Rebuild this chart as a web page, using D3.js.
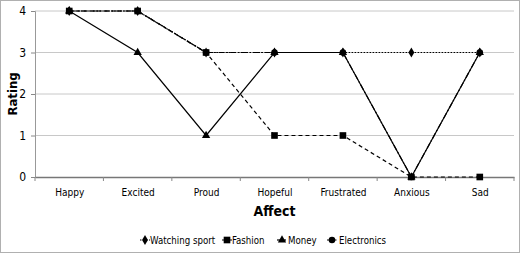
<!DOCTYPE html>
<html><head><meta charset="utf-8">
<script src="https://cdn.jsdelivr.net/npm/d3@7"></script>
<style>body{margin:0;background:#fff}svg{display:block}text{font-family:"DejaVu Sans Condensed","Liberation Sans Narrow","Arial Narrow",sans-serif}</style>
</head><body>
<svg id="c" width="520" height="253"></svg>
<script>
const categories = ["Happy","Excited","Proud","Hopeful","Frustrated","Anxious","Sad"];
const watchingSport = [4,4,3,3,3,3,3];
const fashion = [4,4,3,1,1,0,0];
const money = [4,3,1,3,3,0,3];
const electronics = [4,4,3,3,3,0,3];
const yTicks = [0,1,2,3,4];
const seriesNames = ["Watching sport","Fashion","Money","Electronics"];

const series = [
  {name: seriesNames[0], values: watchingSport, dash: "1.5,1.5", sym: d3.symbolDiamond, size: 30},
  {name: seriesNames[1], values: fashion, dash: "4,3", sym: d3.symbolSquare, size: 44},
  {name: seriesNames[2], values: money, dash: null, sym: d3.symbolTriangle, size: 30},
  {name: seriesNames[3], values: electronics, dash: "6,2,1.5,2", sym: d3.symbolCircle, size: 34}
];

const svg = d3.select("#c");
svg.append("rect").attr("x",0.5).attr("y",0.5).attr("width",519).attr("height",252)
  .attr("fill","#fff").attr("stroke","#b0b0b0");

const m = {l:35, r:514, t:11, b:177};
const x = d3.scalePoint().domain(categories).range([m.l, m.r]).padding(0.5);
const y = d3.scaleLinear().domain([0,4]).range([m.b, m.t]);

// gridlines
svg.append("g").selectAll("line").data(yTicks.filter(d=>d>0)).join("line")
  .attr("x1",m.l).attr("x2",m.r).attr("y1",d=>y(d)).attr("y2",d=>y(d))
  .attr("stroke","#c8c8c8").attr("stroke-width",1);

// y axis
const ya = svg.append("g").attr("transform",`translate(${m.l},0)`)
  .call(d3.axisLeft(y).tickValues(yTicks).tickFormat(d3.format("d")).tickSize(4).tickPadding(5));
ya.select(".domain").attr("stroke","#999");
ya.selectAll(".tick line").attr("stroke","#888");
ya.selectAll("text").attr("font-size",12).attr("fill","#000");

// x axis
const step = x.step();
const xa = svg.append("g").attr("transform",`translate(0,${m.b})`)
  .call(d3.axisBottom(x).tickSize(0).tickPadding(12));
xa.select(".domain").attr("stroke","#777").attr("stroke-width",1.5);
xa.selectAll("text").attr("font-size",10).attr("fill","#000");
xa.append("g").selectAll("line").data(d3.range(categories.length+1)).join("line")
  .attr("x1",i=>m.l+i*step).attr("x2",i=>m.l+i*step).attr("y1",0).attr("y2",4)
  .attr("stroke","#888");

// lines
const line = d3.line().x((d,i)=>x(categories[i])).y(d=>y(d));
series.forEach(s=>{
  svg.append("path").datum(s.values).attr("d",line).attr("fill","none")
    .attr("stroke","#000").attr("stroke-width",1.2)
    .attr("stroke-dasharray",s.dash);
});
[0,2,3,1].forEach(k=>{
  const s = series[k];
  svg.append("g").selectAll("path").data(s.values).join("path")
    .attr("transform",(d,i)=>`translate(${x(categories[i])},${y(d)})`)
    .attr("d",d3.symbol().type(s.sym).size(s.size)).attr("fill","#000");
});

// axis titles
svg.append("text").attr("x",(m.l+m.r)/2).attr("y",216).attr("text-anchor","middle")
  .attr("font-size",14).attr("font-weight","bold").text("Affect");
svg.append("text").attr("transform",`translate(17,${(m.t+m.b)/2}) rotate(-90)`)
  .attr("text-anchor","middle").attr("font-size",13).attr("font-weight","bold").text("Rating");

// legend
const legMarker = [145, 227, 282, 332];
const legText = [150, 232, 288, 339];
const leg = svg.append("g");
series.forEach((s,i)=>{
  const g = leg.append("g").attr("transform",`translate(${legMarker[i]},240)`);
  g.append("line").attr("x1",-5).attr("x2",s.dash ? 5 : 4).attr("y1",0).attr("y2",0)
    .attr("stroke","#000").attr("stroke-width",1.2).attr("stroke-dasharray",s.dash);
  g.append("path").attr("d",d3.symbol().type(s.sym).size(s.size)).attr("fill","#000");
  leg.append("text").attr("x",legText[i]).attr("y",244).attr("font-size",9.6).text(s.name);
});
</script>
</body></html>
